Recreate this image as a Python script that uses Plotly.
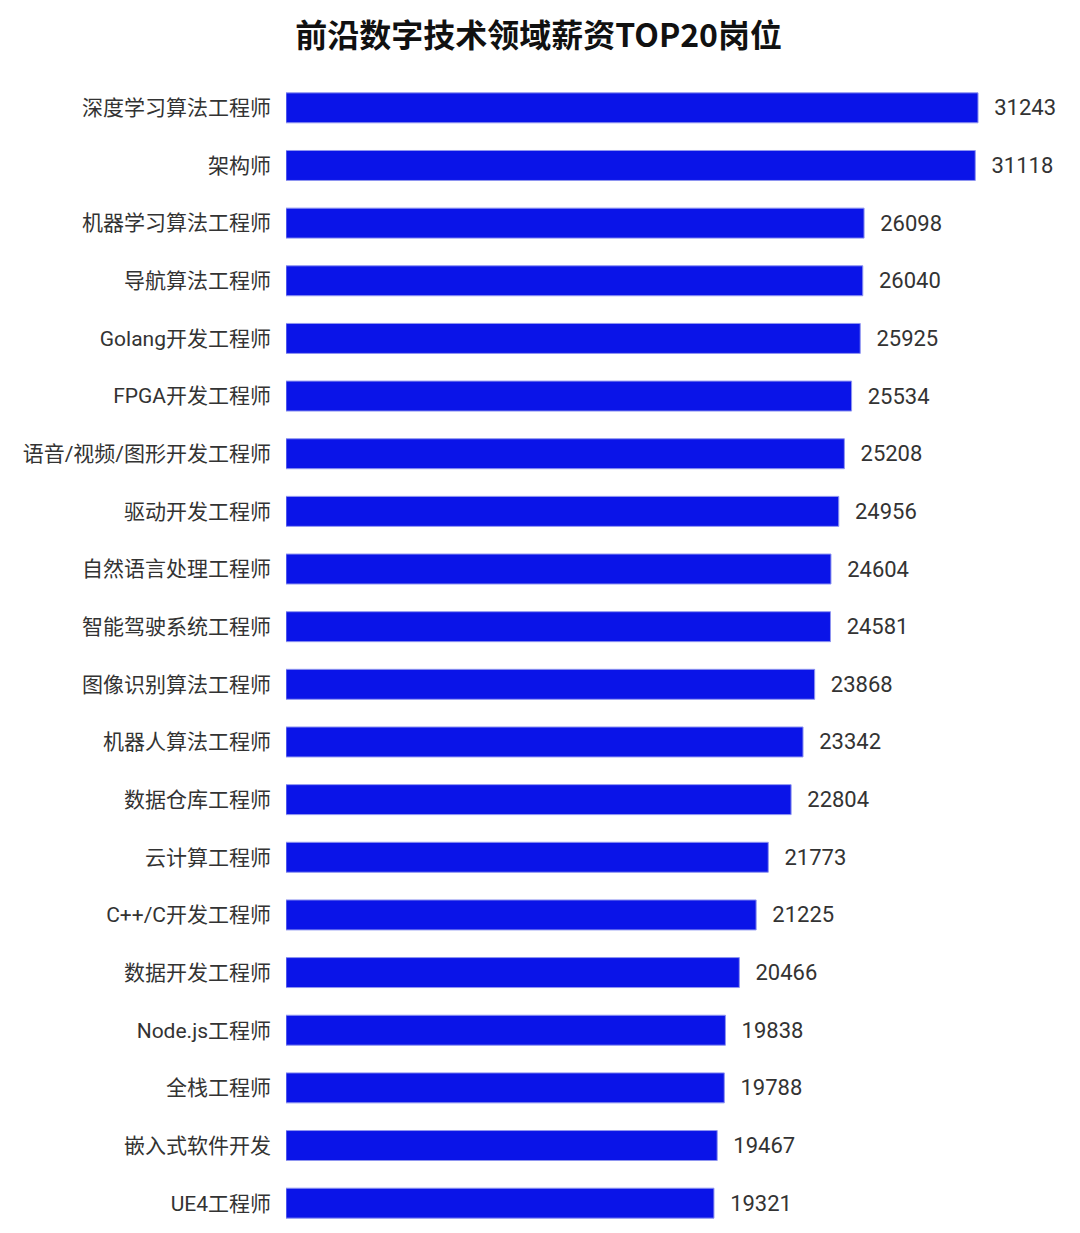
import plotly.graph_objects as go

jobs = ["深度学习算法工程师", "架构师", "机器学习算法工程师", "导航算法工程师", "Golang开发工程师",
        "FPGA开发工程师", "语音/视频/图形开发工程师", "驱动开发工程师", "自然语言处理工程师", "智能驾驶系统工程师",
        "图像识别算法工程师", "机器人算法工程师", "数据仓库工程师", "云计算工程师", "C++/C开发工程师",
        "数据开发工程师", "Node.js工程师", "全栈工程师", "嵌入式软件开发", "UE4工程师"]
salaries = [31243, 31118, 26098, 26040, 25925, 25534, 25208, 24956, 24604, 24581,
            23868, 23342, 22804, 21773, 21225, 20466, 19838, 19788, 19467, 19321]

font = "Roboto, Noto Sans CJK SC, sans-serif"
title_font = "Noto Sans CJK SC, sans-serif"

fig = go.Figure(go.Bar(
    x=salaries, y=jobs, orientation="h",
    marker=dict(color="#0a14e8", line=dict(color="#8f95f0", width=1)),
    width=0.52,
    text=[f"\u00a0\u00a0\u200a{v}" for v in salaries],
    textposition="outside",
    textfont=dict(size=22, color="#333333", family=font),
    cliponaxis=False,
))

fig.update_layout(
    width=1072, height=1225,
    margin=dict(l=278, r=30, t=71, b=1),
    paper_bgcolor="white", plot_bgcolor="white",
    title=dict(text="<b>前沿数字技术领域薪资TOP20岗位</b>", x=0.495, xanchor="center",
               y=0.977, yanchor="middle",
               font=dict(size=32, color="#111111", family=title_font)),
    xaxis=dict(range=[0, 34492], visible=False, fixedrange=True),
    yaxis=dict(autorange="reversed", showgrid=False, showline=False, ticks="",
               ticklabelstandoff=14,
               tickfont=dict(size=21, color="#333333", family=font)),
    showlegend=False,
)

fig.write_html("out.html")
